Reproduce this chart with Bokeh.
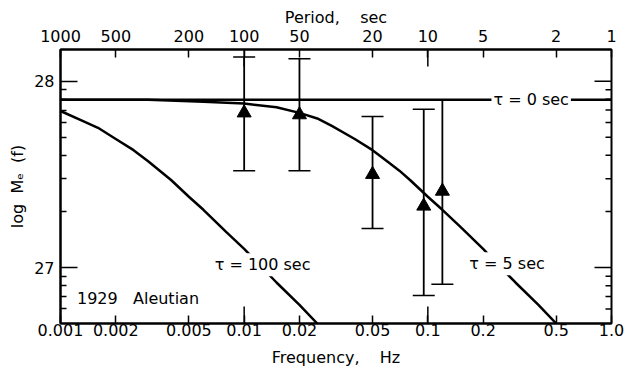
from bokeh.plotting import figure
from bokeh.models import (Range1d, LogAxis, FixedTicker, Whisker, TeeHead,
                          ColumnDataSource, Label)
from bokeh.embed import file_html
from bokeh.resources import INLINE

FONT = "DejaVu Sans"
FS = "16px"
NB = "\u00a0"

# ---- tick positions / labels ----
freq_ticks = [0.001, 0.002, 0.005, 0.01, 0.02, 0.05, 0.1, 0.2, 0.5, 1.0]
freq_labels = ["0.001", "0.002", "0.005", "0.01", "0.02", "0.05", "0.1", "0.2", "0.5", "1.0"]
period_labels = ["1000", "500", "200", "100", "50", "20", "10", "5", "2", "1"]
decade_ticks = [0.01, 0.1]

logM_major = [27, 28]
logM_minor = [26.778, 26.845, 26.903, 26.954, 27.301, 27.477, 27.602,
              27.699, 27.778, 27.845, 27.903, 27.954]

# ---- observations (1929 Aleutian) ----
obs_freq = [0.01, 0.02, 0.05, 0.095, 0.12]
obs_logM = [27.83, 27.82, 27.50, 27.33, 27.41]
obs_upper = [28.13, 28.12, 27.81, 27.85, 27.90]
obs_lower = [27.52, 27.52, 27.21, 26.85, 26.91]

# ---- model curves ----
tau0_freq = [0.001, 1.0]
tau0_logM = [27.90, 27.90]

tau5_freq = [0.001, 0.003, 0.006, 0.01, 0.015, 0.02, 0.025, 0.03, 0.04, 0.05, 0.06,
             0.07, 0.08, 0.1, 0.12, 0.15, 0.2, 0.25, 0.3, 0.4, 0.5, 0.6]
tau5_logM = [27.90, 27.90, 27.89, 27.88, 27.86, 27.83, 27.80, 27.76, 27.69, 27.63, 27.57,
             27.52, 27.47, 27.38, 27.31, 27.22, 27.10, 27.00, 26.92, 26.80, 26.70, 26.62]

tau100_freq = [0.001, 0.0013, 0.0016, 0.002, 0.0025, 0.003, 0.004, 0.005, 0.006, 0.008,
               0.01, 0.012, 0.015, 0.02, 0.025, 0.03]
tau100_logM = [27.84, 27.79, 27.75, 27.69, 27.63, 27.57, 27.47, 27.38, 27.31, 27.19,
               27.10, 27.02, 26.92, 26.80, 26.70, 26.62]

X0, X1 = 0.001, 1.0
Y0, Y1 = 26.70, 28.17

W, H = 630, 372
FRAME_L, FRAME_R, FRAME_T, FRAME_B = 60, 611, 49, 323
PX_PER_DECADE = (FRAME_R - FRAME_L) / 3.0
PX_PER_UNIT_Y = (FRAME_B - FRAME_T) / (Y1 - Y0)

p = figure(width=W, height=H, x_axis_type="log",
           x_range=Range1d(X0, X1), y_range=Range1d(Y0, Y1),
           output_backend="svg", toolbar_location=None,
           min_border_left=FRAME_L, min_border_right=W - FRAME_R,
           min_border_top=FRAME_T, min_border_bottom=H - FRAME_B,
           background_fill_color="white", border_fill_color="white")
p.grid.visible = False
p.outline_line_color = "black"
p.outline_line_width = 2


def style(ax, tick_in, minor_in=0):
    ax.major_tick_in = tick_in
    ax.major_tick_out = 0
    ax.minor_tick_in = minor_in
    ax.minor_tick_out = 0
    ax.axis_line_color = "black"
    ax.axis_line_width = 2
    ax.major_tick_line_color = "black"
    ax.major_tick_line_width = 1.5
    ax.minor_tick_line_color = "black"
    ax.minor_tick_line_width = 1.5
    ax.major_label_text_font = FONT
    ax.major_label_text_font_size = FS
    ax.major_label_text_color = "black"
    ax.axis_label_text_font = FONT
    ax.axis_label_text_font_size = FS
    ax.axis_label_text_font_style = "normal"
    ax.axis_label_text_color = "black"


# bottom axis
xb = p.xaxis[0]
xb.ticker = FixedTicker(ticks=freq_ticks, minor_ticks=[])
xb.major_label_overrides = dict(zip(freq_ticks, freq_labels))
xb.axis_label = "Frequency," + NB * 4 + "Hz"
style(xb, 8)
xb.major_label_standoff = 0
xb.axis_label_standoff = 9

# top axis (period)
xt = LogAxis(ticker=FixedTicker(ticks=freq_ticks, minor_ticks=[]),
             major_label_overrides=dict(zip(freq_ticks, period_labels)),
             axis_label="Period," + NB * 4 + "sec")
style(xt, 8)
xt.major_label_standoff = 8
xt.axis_label_standoff = 0
p.add_layout(xt, "above")

# left axis
yl = p.yaxis[0]
yl.ticker = FixedTicker(ticks=logM_major, minor_ticks=logM_minor)
yl.axis_label = "log" + NB * 2 + "M\u2091" + NB * 2 + "(f)"
style(yl, 17, 6)
yl.major_label_standoff = 6
yl.axis_label_standoff = 4

# long decade ticks on the bottom and top edges
LONG_Y = 17.0 / PX_PER_UNIT_Y
p.segment(x0=decade_ticks, y0=[Y0] * len(decade_ticks), x1=decade_ticks,
          y1=[Y0 + LONG_Y] * len(decade_ticks), line_color="black", line_width=1.5)
p.segment(x0=decade_ticks, y0=[Y1 - LONG_Y] * len(decade_ticks), x1=decade_ticks,
          y1=[Y1] * len(decade_ticks), line_color="black", line_width=1.5)

# ticks on the right edge (mirroring the left axis)
f_long = 10 ** (17.0 / PX_PER_DECADE)
f_short = 10 ** (6.0 / PX_PER_DECADE)
p.segment(x0=[X1 / f_long] * len(logM_major), y0=logM_major,
          x1=[X1] * len(logM_major), y1=logM_major, line_color="black", line_width=1.5)
p.segment(x0=[X1 / f_short] * len(logM_minor), y0=logM_minor,
          x1=[X1] * len(logM_minor), y1=logM_minor, line_color="black", line_width=1.5)

# curves
p.line(tau0_freq, tau0_logM, line_color="black", line_width=2.5)
p.line(tau5_freq, tau5_logM, line_color="black", line_width=2.5)
p.line(tau100_freq, tau100_logM, line_color="black", line_width=2.5)

# error bars
src = ColumnDataSource(dict(f=obs_freq, m=obs_logM, hi=obs_upper, lo=obs_lower))
p.add_layout(Whisker(base="f", upper="hi", lower="lo", source=src,
                     line_color="black", line_width=1.8,
                     upper_head=TeeHead(size=22, line_color="black", line_width=1.5),
                     lower_head=TeeHead(size=22, line_color="black", line_width=1.5)))
p.scatter("f", "m", source=src, marker="triangle", size=14,
          fill_color="black", line_color="black")

# text labels
common = dict(text_font=FONT, text_font_size=FS, text_color="black", text_baseline="middle")
p.add_layout(Label(x=0.222, y=27.90, text="\u03c4 = 0 sec", text_align="left",
                   background_fill_color="white", padding=2, **common))
p.add_layout(Label(x=0.27, y=27.02, text="\u03c4 = 5 sec", text_align="center",
                   background_fill_color="white", padding=2, **common))
p.add_layout(Label(x=0.0126, y=27.015, text="\u03c4 = 100 sec", text_align="center",
                   background_fill_color="white", padding=2, **common))
p.add_layout(Label(x=0.00123, y=26.834, text="1929" + NB * 3 + "Aleutian", text_align="left",
                   **common))

open("out.html", "w").write(file_html(p, INLINE))
